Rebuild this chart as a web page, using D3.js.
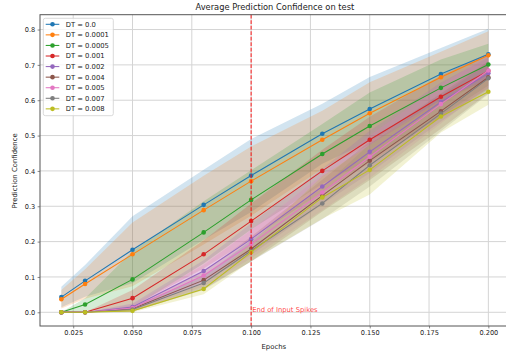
<!DOCTYPE html>
<html>
<head>
<meta charset="utf-8">
<script src="https://cdn.jsdelivr.net/npm/d3@7"></script>
<style>
body { margin: 0; background: #fff; }
svg { display: block; font-family: "DejaVu Sans", sans-serif; }
</style>
</head>
<body>
<svg id="chart" width="506" height="354"></svg>
<script>
// data
var epochs = [0.02, 0.03, 0.05, 0.08, 0.1, 0.13, 0.15, 0.18, 0.2];
var dtLabels = ["DT = 0.0", "DT = 0.0001", "DT = 0.0005", "DT = 0.001", "DT = 0.002",
                "DT = 0.004", "DT = 0.005", "DT = 0.007", "DT = 0.008"];
var meanConf = [
    [0.043, 0.089, 0.177, 0.304, 0.387, 0.505, 0.575, 0.674, 0.730],
    [0.037, 0.080, 0.164, 0.289, 0.371, 0.488, 0.563, 0.665, 0.727],
    [0.000, 0.022, 0.093, 0.226, 0.318, 0.448, 0.527, 0.635, 0.701],
    [0.000, 0.000, 0.040, 0.164, 0.258, 0.400, 0.488, 0.610, 0.683],
    [0.000, 0.000, 0.015, 0.117, 0.207, 0.356, 0.454, 0.595, 0.676],
    [0.000, 0.000, 0.010, 0.091, 0.179, 0.330, 0.429, 0.569, 0.665],
    [0.000, 0.000, 0.012, 0.104, 0.193, 0.339, 0.440, 0.589, 0.684],
    [0.000, 0.000, 0.008, 0.083, 0.174, 0.308, 0.416, 0.562, 0.662],
    [0.000, 0.000, 0.004, 0.066, 0.170, 0.325, 0.403, 0.554, 0.624]
];
var stdConf = [
    [0.029, 0.045, 0.095, 0.099, 0.103, 0.085, 0.091, 0.074, 0.072],
    [0.026, 0.042, 0.090, 0.097, 0.098, 0.082, 0.088, 0.072, 0.068],
    [0.000, 0.018, 0.080, 0.088, 0.084, 0.085, 0.095, 0.080, 0.059],
    [0.000, 0.000, 0.023, 0.040, 0.050, 0.060, 0.065, 0.060, 0.050],
    [0.000, 0.000, 0.010, 0.030, 0.045, 0.050, 0.060, 0.055, 0.045],
    [0.000, 0.000, 0.008, 0.025, 0.035, 0.045, 0.055, 0.050, 0.045],
    [0.000, 0.000, 0.010, 0.030, 0.040, 0.050, 0.060, 0.055, 0.045],
    [0.000, 0.000, 0.006, 0.020, 0.030, 0.045, 0.060, 0.050, 0.045],
    [0.000, 0.000, 0.004, 0.015, 0.025, 0.060, 0.070, 0.045, 0.037]
];
var xTicks = [0.025, 0.05, 0.075, 0.1, 0.125, 0.15, 0.175, 0.2];
var yTicks = [0, 0.1, 0.2, 0.3, 0.4, 0.5, 0.6, 0.7, 0.8];
var spikeEnd = 0.1;

var colors = ["#1f77b4", "#ff7f0e", "#2ca02c", "#d62728", "#9467bd",
              "#8c564b", "#e377c2", "#7f7f7f", "#bcbd22"];

var svg = d3.select("#chart"),
    margin = { top: 14.7, right: -3.7, bottom: 28, left: 40 },
    width = +svg.attr("width") - margin.left - margin.right,
    height = +svg.attr("height") - margin.top - margin.bottom;

var x = d3.scaleLinear().domain([0.011, 0.209]).range([0, width]);
var y = d3.scaleLinear().domain([-0.0388, 0.842]).range([height, 0]);

var g = svg.append("g")
    .attr("transform", "translate(" + margin.left + "," + margin.top + ")");

// grid
g.append("g").selectAll("line").data(xTicks).enter().append("line")
    .attr("x1", function (d) { return x(d); }).attr("x2", function (d) { return x(d); })
    .attr("y1", 0).attr("y2", height)
    .attr("stroke", "#d4d4d4").attr("stroke-width", 1);
g.append("g").selectAll("line").data(yTicks).enter().append("line")
    .attr("y1", function (d) { return y(d); }).attr("y2", function (d) { return y(d); })
    .attr("x1", 0).attr("x2", width)
    .attr("stroke", "#d4d4d4").attr("stroke-width", 1);

var band = d3.area()
    .x(function (d) { return x(d.x); })
    .y0(function (d) { return y(d.lo); })
    .y1(function (d) { return y(d.hi); });
var line = d3.line()
    .x(function (d) { return x(d.x); })
    .y(function (d) { return y(d.m); });

var seriesPts = meanConf.map(function (series, i) {
    return epochs.map(function (e, j) {
        return { x: e, m: series[j], lo: series[j] - stdConf[i][j], hi: series[j] + stdConf[i][j] };
    });
});

// bands first, then lines with markers
var bands = g.append("g");
var lines = g.append("g");
seriesPts.forEach(function (pts, i) {
    bands.append("path").datum(pts)
        .attr("d", band)
        .attr("fill", colors[i])
        .attr("fill-opacity", 0.2);
    lines.append("path").datum(pts)
        .attr("d", line)
        .attr("fill", "none")
        .attr("stroke", colors[i])
        .attr("stroke-width", 1.05);
    lines.append("g").selectAll("circle").data(pts).enter().append("circle")
        .attr("cx", function (d) { return x(d.x); })
        .attr("cy", function (d) { return y(d.m); })
        .attr("r", 2.3)
        .attr("fill", colors[i]);
});

// end of input spikes marker
g.append("line")
    .attr("x1", x(spikeEnd)).attr("x2", x(spikeEnd))
    .attr("y1", 0).attr("y2", height)
    .attr("stroke", "red").attr("stroke-opacity", 0.85)
    .attr("stroke-width", 1.05)
    .attr("stroke-dasharray", "3.8,1.7");
g.append("text")
    .attr("x", x(spikeEnd) + 1)
    .attr("y", y(0) - 0.5)
    .attr("fill", "red").attr("fill-opacity", 0.75)
    .attr("font-size", 6.8)
    .text("End of Input Spikes");

// axes
var xAxis = g.append("g")
    .attr("transform", "translate(0," + height + ")")
    .call(d3.axisBottom(x).tickValues(xTicks).tickFormat(d3.format(".3f")).tickSize(2.4).tickPadding(2.4));
var yAxis = g.append("g")
    .call(d3.axisLeft(y).tickValues(yTicks).tickFormat(d3.format(".1f")).tickSize(2.4).tickPadding(2.4));
[xAxis, yAxis].forEach(function (a) {
    a.select(".domain").remove();
    a.selectAll("text").attr("font-size", 6.6).attr("fill", "#222").attr("font-family", "DejaVu Sans");
    a.selectAll("line").attr("stroke", "#555").attr("stroke-width", 0.7);
});

// frame
g.append("rect")
    .attr("width", width).attr("height", height)
    .attr("fill", "none").attr("stroke", "#555").attr("stroke-width", 1);

// titles
svg.append("text")
    .attr("x", margin.left + width / 2).attr("y", 10)
    .attr("text-anchor", "middle").attr("font-size", 8.3).attr("fill", "#222")
    .text("Average Prediction Confidence on test");
svg.append("text")
    .attr("x", margin.left + width / 2 - 1).attr("y", 349)
    .attr("text-anchor", "middle").attr("font-size", 6.9).attr("fill", "#222")
    .text("Epochs");
svg.append("text")
    .attr("transform", "translate(17," + (margin.top + y(0.4)) + ") rotate(-90)")
    .attr("text-anchor", "middle").attr("font-size", 6.9).attr("fill", "#222")
    .text("Prediction Confidence");

// legend
var legend = svg.append("g").attr("transform", "translate(43.3,18.3)");
legend.append("rect")
    .attr("width", 70).attr("height", 97.4).attr("rx", 2)
    .attr("fill", "#fff").attr("fill-opacity", 0.8)
    .attr("stroke", "#d0d0d0").attr("stroke-width", 0.8);
dtLabels.forEach(function (lab, i) {
    var row = legend.append("g").attr("transform", "translate(0," + (6 + i * 10.57) + ")");
    row.append("line").attr("x1", 2.4).attr("x2", 16).attr("stroke", colors[i]).attr("stroke-width", 1.05);
    row.append("circle").attr("cx", 9.2).attr("r", 2.3).attr("fill", colors[i]);
    row.append("text").attr("x", 22.4).attr("dy", "0.35em")
        .attr("font-size", 6.8).attr("fill", "#222").text(lab);
});
</script>
</body>
</html>
